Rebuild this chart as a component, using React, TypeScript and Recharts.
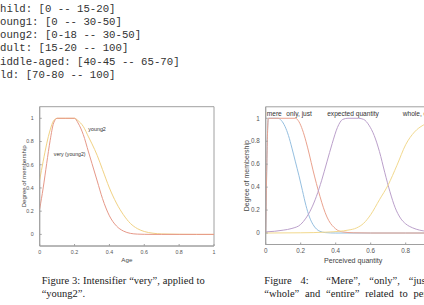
import { LineChart, Line, XAxis, YAxis, ReferenceArea, ReferenceDot } from 'recharts'

// text block above the figures (first letter of each line is cut by the page edge)
const codeLines = [
  'child: [0 -- 15-20]',
  'young1: [0 -- 30-50]',
  'young2: [0-18 -- 30-50]',
  'adult: [15-20 -- 100]',
  'middle-aged: [40-45 -- 65-70]',
  'old: [70-80 -- 100]',
]

const axisTicks = [0, 0.2, 0.4, 0.6, 0.8, 1]

// Figure 3
const ageX = [0, 0.02, 0.04, 0.06, 0.08, 0.1, 0.15, 0.2, 0.22, 0.25, 0.28, 0.3, 0.33, 0.36, 0.4, 0.44, 0.48, 0.52, 0.56, 0.6, 0.65, 0.7, 0.8, 0.9, 1]
const young2 = [0.47, 0.63, 0.78, 0.9, 0.98, 1, 1, 1, 0.98, 0.93, 0.84, 0.78, 0.68, 0.56, 0.4, 0.27, 0.17, 0.095, 0.05, 0.025, 0.01, 0.004, 0.001, 0, 0]
const veryYoung2 = [0.22, 0.4, 0.61, 0.81, 0.96, 1, 1, 1, 0.96, 0.86, 0.71, 0.61, 0.46, 0.31, 0.16, 0.073, 0.029, 0.009, 0.0025, 0.0006, 0, 0, 0, 0, 0]

// Figure 4
const mereX = [0, 0.015, 0.07, 0.09, 0.11, 0.13, 0.15, 0.17, 0.19, 0.21, 0.23, 0.25, 0.27, 0.29, 0.31, 0.34, 0.4, 0.6, 0.8, 1]
const mere = [0, 1, 1, 0.98, 0.93, 0.85, 0.74, 0.62, 0.5, 0.37, 0.24, 0.14, 0.075, 0.035, 0.015, 0.004, 0, 0, 0, 0]
const onlyX = [0, 0.015, 0.17, 0.19, 0.21, 0.23, 0.25, 0.27, 0.29, 0.31, 0.33, 0.35, 0.37, 0.39, 0.41, 0.44, 0.5, 0.6, 0.8, 1]
const onlyJust = [0, 1, 1, 0.97, 0.9, 0.8, 0.68, 0.55, 0.43, 0.32, 0.22, 0.14, 0.085, 0.05, 0.025, 0.01, 0.002, 0, 0, 0]
const expectedX = [0, 0.05, 0.1, 0.15, 0.2, 0.23, 0.26, 0.29, 0.32, 0.35, 0.38, 0.41, 0.44, 0.47, 0.53, 0.56, 0.59, 0.62, 0.65, 0.68, 0.71, 0.74, 0.77, 0.8, 0.84, 0.88, 0.92, 0.96, 1]
const expected = [0.01, 0.015, 0.025, 0.04, 0.075, 0.13, 0.21, 0.32, 0.46, 0.62, 0.78, 0.92, 0.99, 1, 1, 0.99, 0.94, 0.85, 0.71, 0.53, 0.36, 0.22, 0.13, 0.08, 0.045, 0.025, 0.015, 0.01, 0.008]
const wholeX = [0, 0.2, 0.35, 0.42, 0.47, 0.52, 0.56, 0.6, 0.65, 0.7, 0.75, 0.8, 0.85, 0.9, 0.95, 1]
const whole = [0, 0.002, 0.008, 0.015, 0.025, 0.045, 0.085, 0.16, 0.29, 0.42, 0.59, 0.77, 0.88, 0.94, 0.97, 0.98]

const toPoints = (xs: number[], ys: number[]) => xs.map((x, i) => ({ x, y: ys[i] }))

const sans = '"Liberation Sans", Arial, sans-serif'
const serif = '"Liberation Serif", "Times New Roman", serif'
const boxColor = '#a0a0a0'

function Figure3() {
  return (
    <div style={{ position: 'absolute', left: 0, top: 96 }}>
      <LineChart width={230} height={170} margin={{ top: 10.7, right: 16, left: 9.7, bottom: 0 }} style={{ fontFamily: sans }}>
        <XAxis
          type="number"
          dataKey="x"
          domain={[0, 1]}
          ticks={axisTicks}
          height={20}
          stroke={boxColor}
          tickSize={-2}
          tickMargin={6}
          tick={{ fontSize: 5.3, fill: '#555' }}
          label={{ value: 'Age', position: 'insideBottom', offset: 4, fontSize: 6.2, fill: '#444' }}
        />
        <YAxis
          type="number"
          domain={[-0.1, 1.1]}
          ticks={axisTicks}
          width={30}
          stroke={boxColor}
          tickSize={-2}
          tickMargin={8}
          tick={{ fontSize: 5.3, fill: '#555' }}
          label={{ value: 'Degree of membership', angle: -90, position: 'insideLeft', offset: 14, fontSize: 6.1, fill: '#444', style: { textAnchor: 'middle' } }}
        />
        <ReferenceArea x1={0} x2={1} y1={-0.1} y2={1.1} fill="none" stroke={boxColor} />
        <Line data={toPoints(ageX, young2)} dataKey="y" type="monotone" stroke="#f1d284" strokeWidth={1} dot={false} isAnimationActive={false} />
        <Line data={toPoints(ageX, veryYoung2)} dataKey="y" type="monotone" stroke="#e69888" strokeWidth={1} dot={false} isAnimationActive={false} />
        <ReferenceDot x={0.329} y={0.905} r={0} stroke="none" fill="none" label={{ value: 'young2', position: 'center', fontSize: 5.4, fill: '#333' }} />
        <ReferenceDot x={0.172} y={0.692} r={0} stroke="none" fill="none" label={{ value: 'very (young2)', position: 'center', fontSize: 5.2, fill: '#333' }} />
      </LineChart>
    </div>
  )
}

function Figure4() {
  return (
    <div style={{ position: 'absolute', left: 215, top: 96 }}>
      <LineChart width={240} height={170} margin={{ top: 10.8, right: 14.3, left: 20.7, bottom: 1.5 }} style={{ fontFamily: sans }}>
        <XAxis
          type="number"
          dataKey="x"
          domain={[0, 1]}
          ticks={axisTicks}
          height={20}
          stroke={boxColor}
          tickSize={-2}
          tickMargin={6}
          tick={{ fontSize: 6.3, fill: '#555' }}
          label={{ value: 'Perceived quantity', position: 'insideBottom', offset: 2, fontSize: 7.1, fill: '#444' }}
        />
        <YAxis
          type="number"
          domain={[-0.1, 1.1]}
          ticks={axisTicks}
          width={30}
          stroke={boxColor}
          tickSize={-2}
          tickMargin={8}
          tick={{ fontSize: 6.3, fill: '#555' }}
          label={{ value: 'Degree of membership', angle: -90, position: 'insideLeft', offset: 11.3, fontSize: 7, fill: '#444', style: { textAnchor: 'middle' } }}
        />
        <ReferenceArea x1={0} x2={1} y1={-0.1} y2={1.1} fill="none" stroke={boxColor} />
        <Line data={toPoints(mereX, mere)} dataKey="y" type="monotone" stroke="#95bfe0" strokeWidth={1} dot={false} isAnimationActive={false} />
        <Line data={toPoints(onlyX, onlyJust)} dataKey="y" type="monotone" stroke="#eaa28e" strokeWidth={1} dot={false} isAnimationActive={false} />
        <Line data={toPoints(expectedX, expected)} dataKey="y" type="monotone" stroke="#bba0cb" strokeWidth={1} dot={false} isAnimationActive={false} />
        <Line data={toPoints(wholeX, whole)} dataKey="y" type="monotone" stroke="#f2d98e" strokeWidth={1} dot={false} isAnimationActive={false} />
        <ReferenceDot x={0.049} y={1.044} r={0} stroke="none" fill="none" label={{ value: 'mere', position: 'center', fontSize: 6.6, fill: '#333' }} />
        <ReferenceDot x={0.191} y={1.044} r={0} stroke="none" fill="none" label={{ value: 'only, just', position: 'center', fontSize: 6.6, fill: '#333' }} />
        <ReferenceDot x={0.499} y={1.044} r={0} stroke="none" fill="none" label={{ value: 'expected quantity', position: 'center', fontSize: 6.6, fill: '#333' }} />
        <ReferenceDot x={0.783} y={1.044} r={0} stroke="none" fill="none" label={{ value: 'whole, entire', position: 'right', offset: 0, fontSize: 6.6, fill: '#333' }} />
      </LineChart>
    </div>
  )
}

export default function App() {
  return (
    <div style={{ position: 'absolute', left: 0, top: 0, width: 424, height: 305, overflow: 'hidden', background: '#fff' }}>
      <div style={{ position: 'absolute', left: -6.4, top: 2.6, fontFamily: '"Liberation Mono", "Courier New", monospace', fontSize: 10.7, lineHeight: '13.3px', whiteSpace: 'pre', color: '#333' }}>
        {codeLines.map((l) => (
          <div key={l}>{l}</div>
        ))}
      </div>
      <Figure3 />
      <Figure4 />
      <div style={{ position: 'absolute', left: 41.7, top: 275.3, fontFamily: serif, fontSize: 10.5, lineHeight: '12.6px', whiteSpace: 'pre', color: '#222' }}>
        <div style={{ wordSpacing: 0.3 }}>Figure 3: Intensifier “very”, applied to</div>
        <div>“young2”.</div>
      </div>
      <div style={{ position: 'absolute', left: 264.3, top: 275.3, fontFamily: serif, fontSize: 10.5, lineHeight: '12.6px', whiteSpace: 'pre', color: '#222' }}>
        <div style={{ wordSpacing: 6.2 }}>Figure&nbsp;4:  “Mere”, “only”, “just”,</div>
        <div style={{ wordSpacing: 3.2 }}>“whole” and “entire” related to perceived</div>
      </div>
    </div>
  )
}
